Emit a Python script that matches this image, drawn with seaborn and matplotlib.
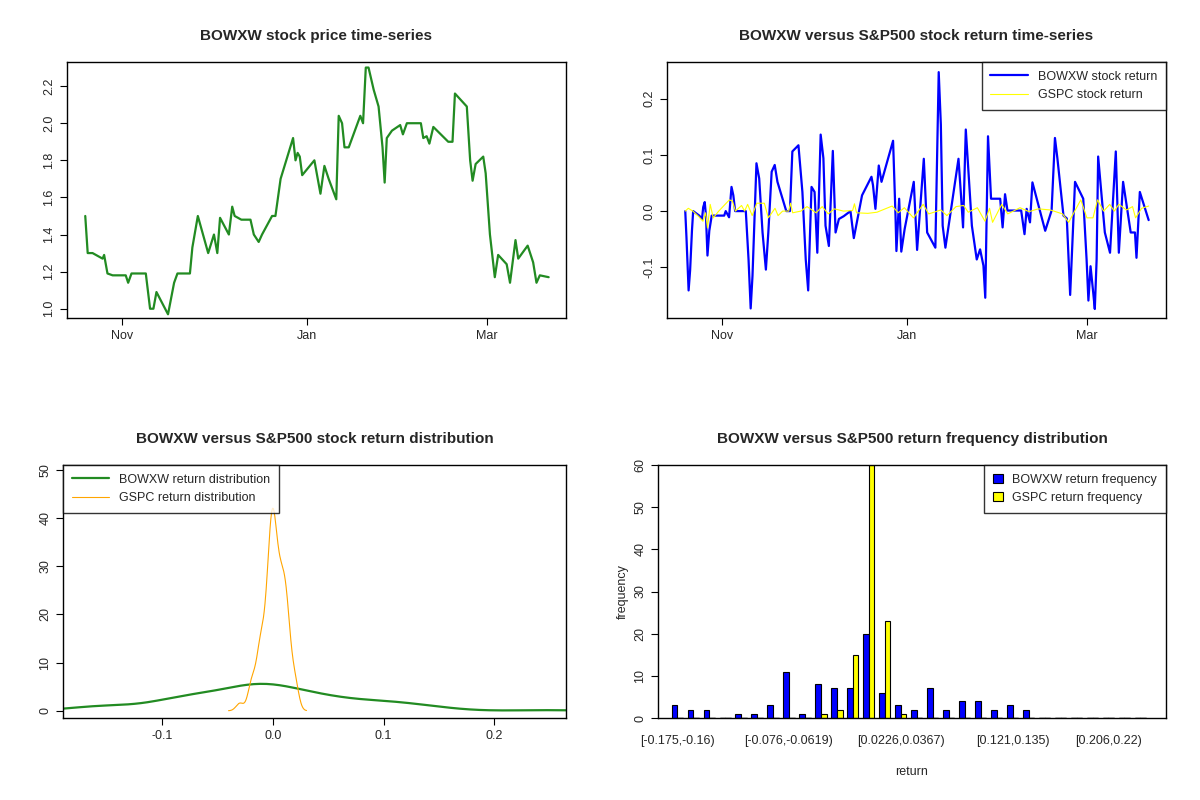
import matplotlib
matplotlib.use("Agg")
import matplotlib.pyplot as plt
import matplotlib.dates as mdates
import seaborn as sns
import numpy as np
import pandas as pd

start = pd.Timestamp("2021-10-20")

# BOWXW price (day offset from start, price)
price_days = [0, 0.8, 2.4, 4.6, 5.7, 6.2, 7.3, 9.0, 13.3, 14.1, 15.2, 19.9, 21.3, 22.4, 23.4,
              27.2, 29.2, 30.3, 34.4, 35.2, 37.0, 40.4, 42.3, 43.4, 44.3, 47.2, 48.3, 49.1, 51.3,
              54.3, 55.4, 57.0, 58.1, 61.4, 62.5, 64.2, 68.3, 69.1, 69.8, 70.5, 71.3, 75.3, 77.3,
              78.6, 80.0, 82.5, 83.3, 84.4, 85.2, 86.6, 90.4, 91.3, 92.2, 93.1, 94.8, 96.4, 97.7,
              98.4, 99.1, 100.8, 103.5, 104.4, 105.7, 110.3, 111.1, 112.2, 113.1, 114.4, 119.3,
              120.7, 121.5, 125.4, 126.5, 127.3, 128.3, 130.8, 131.6, 133.0, 134.6, 135.7, 138.5,
              139.6, 141.4, 142.3, 145.4, 147.2, 148.3, 149.4, 152.3]
price = [1.50, 1.30, 1.30, 1.28, 1.27, 1.29, 1.19, 1.18, 1.18, 1.14, 1.19, 1.19, 1.00, 1.00, 1.09,
         0.97, 1.14, 1.19, 1.19, 1.33, 1.50, 1.30, 1.40, 1.30, 1.49, 1.40, 1.55, 1.50, 1.48,
         1.48, 1.40, 1.36, 1.40, 1.50, 1.50, 1.70, 1.92, 1.80, 1.84, 1.82, 1.72, 1.80, 1.62,
         1.77, 1.70, 1.59, 2.04, 2.00, 1.87, 1.87, 2.04, 2.00, 2.30, 2.30, 2.18, 2.09, 1.87,
         1.68, 1.92, 1.96, 1.99, 1.94, 2.00, 2.00, 1.92, 1.93, 1.89, 1.98, 1.90,
         1.90, 2.16, 2.09, 1.80, 1.69, 1.78, 1.82, 1.73, 1.40, 1.17, 1.29, 1.24,
         1.14, 1.37, 1.27, 1.34, 1.25, 1.14, 1.18, 1.17]

# BOWXW daily return
ret_days = [0, 0.4, 1.1, 1.6, 2.2, 2.6, 4.6, 5.5, 5.9, 6.4,
            6.8, 7.3, 7.9, 8.7, 12.8, 13.3, 14.4, 15.2, 15.8, 16.4,
            19.9, 20.8, 21.5, 22.1, 23.4, 24.3, 25.4, 26.5, 27.3, 28.4,
            29.4, 30.3, 33.2, 34.4, 35.2, 37.2, 38.5, 39.6, 40.4, 41.5,
            42.5, 43.4, 44.5, 45.4, 46.1, 47.2, 48.5, 49.4, 50.5, 52.1,
            54.3, 55.4, 58.1, 61.2, 61.7, 62.5, 63.6, 64.5, 68.3, 69.1,
            69.4, 70.3, 71.0, 72.1, 75.1, 76.2, 78.4, 79.5, 82.2, 83.3,
            84.0, 84.6, 85.5, 89.8, 90.7, 91.3, 92.2, 94.2, 95.8, 96.9,
            98.0, 98.6, 99.5, 100.5, 103.5, 104.3, 105.1, 105.9, 110.4, 111.5,
            112.2, 113.3, 114.1, 118.3, 120.4, 121.5, 122.3, 124.3, 125.4, 126.5,
            128.1, 130.8, 131.9, 132.5, 133.2, 134.1, 134.6, 135.2, 135.7, 137.9,
            139.6, 141.5, 142.5, 143.9, 146.4, 147.8, 148.3, 149.4, 152.3]
bowxw_ret = [0, -0.047, -0.141, -0.105, -0.035, 0, -0.008, -0.014, 0.007, 0.016,
             -0.008, -0.079, -0.035, -0.008, -0.008, 0, -0.011, 0.043, 0.028, 0,
             0, -0.086, -0.173, -0.115, 0.085, 0.058, -0.038, -0.104, -0.038, 0.070,
             0.082, 0.052, 0, 0, 0.106, 0.117, 0.034, -0.086, -0.141, 0.043,
             0.034, -0.074, 0.136, 0.094, -0.026, -0.062, 0.107, -0.038, -0.014, -0.009,
             0, -0.048, 0.028, 0.061, 0.046, 0.004, 0.081, 0.052, 0.125, -0.008,
             -0.071, 0.022, -0.072, -0.032, 0.052, -0.069, 0.093, -0.038, -0.065, 0.247,
             0.154, -0.026, -0.065, 0.093, 0.022, -0.029, 0.145, -0.026, -0.086, -0.068,
             -0.097, -0.154, 0.133, 0.022, 0.022, -0.029, 0.030, 0.001, 0.001, -0.041,
             0.004, -0.020, 0.051, -0.035, 0.001, 0.130, 0.094, -0.008, -0.013, -0.149,
             0.052, 0.022, -0.086, -0.159, -0.098, -0.146, -0.174, -0.086, 0.097, -0.038,
             -0.074, 0.106, -0.074, 0.052, -0.038, -0.038, -0.083, 0.034, -0.016]

# GSPC daily return
gspc_days = [0, 1.0, 2.5, 4.5, 5.8, 6.7, 7.3, 8.2, 9.2, 11, 14.5, 15.5, 16.5, 18.5, 19.5, 20.5,
             22, 23.5, 26, 27.3, 29.5, 30.5, 32, 34, 34.6, 35.3, 38, 40, 43, 45, 47, 49, 52, 55,
             55.6, 56.3, 60, 63, 68, 70, 72, 75, 78.2, 80, 84, 86, 89, 91.5, 93, 96, 98.5, 100,
             101, 104, 106, 110, 113, 116, 120, 124, 126, 128, 130, 132, 134, 135.5, 137.5,
             139.5, 141, 142.5, 145, 147, 148, 150, 152.3]
gspc_ret = [0, 0.005, 0.0, -0.01, -0.018, -0.003, -0.03, 0.012, -0.012, 0.0, 0.02, 0.018, 0.0,
            0.01, 0.0, 0.012, -0.008, 0.014, 0.014, -0.012, 0.005, -0.008, 0.0, 0.0, 0.014,
            -0.003, 0.0, 0.008, -0.003, 0.008, -0.005, 0.004, 0.0, 0.001, 0.013, -0.003, -0.004,
            -0.002, 0.009, -0.003, 0.006, -0.012, 0.012, -0.005, 0.002, -0.008, 0.008, 0.01,
            -0.002, 0.006, -0.018, 0.005, -0.02, 0.012, -0.005, 0.006, -0.001, 0.004, 0.002,
            -0.005, -0.02, 0.0, 0.02, -0.012, -0.012, 0.02, 0.0, 0.012, 0.0, 0.012, 0.002,
            0.008, -0.012, 0.005, 0.009]

# return frequency (30 bins)
bin_labels = ["[-0.175,-0.16)", "", "", "", "", "", "", "[-0.076,-0.0619)", "", "", "", "", "", "",
              "[0.0226,0.0367)", "", "", "", "", "", "", "[0.121,0.135)", "", "", "", "", "",
              "[0.206,0.22)", "", ""]
bowxw_freq = [3, 2, 2, 0, 1, 1, 3, 11, 1, 8, 7, 7, 20, 6, 3, 2, 7, 2, 4, 4, 2, 3, 2, 0, 0, 0, 0, 0, 0, 0]
gspc_freq = [0, 0, 0, 0, 0, 0, 0, 0, 0, 1, 2, 15, 60, 23, 1, 0, 0, 0, 0, 0, 0, 0, 0, 0, 0, 0, 0, 0, 0, 0]

sns.set_style("white")
plt.rcParams["font.family"] = ["Liberation Sans", "DejaVu Sans"]

fig = plt.figure(figsize=(12, 8), dpi=100)
W, H = 1200, 800


def box(x0, y0, x1, y1):
    return fig.add_axes([x0 / W, 1 - y1 / H, (x1 - x0) / W, (y1 - y0) / H])


def r_style(ax, title):
    for s in ax.spines.values():
        s.set_color("black")
        s.set_linewidth(1)
    ax.tick_params(direction="out", length=5, color="black", labelsize=9, left=True, bottom=True)
    for lab in ax.get_yticklabels():
        lab.set_rotation(90)
        lab.set_va("center")
    ax.set_title(title, fontsize=11, fontweight="bold", pad=16)


def date_axis(ax):
    ax.set_xticks([pd.Timestamp("2021-11-01"), pd.Timestamp("2022-01-01"), pd.Timestamp("2022-03-01")])
    ax.xaxis.set_major_formatter(mdates.DateFormatter("%b"))
    ax.set_xlim(start - pd.Timedelta(days=6), start + pd.Timedelta(days=158))
    ax.set_xlabel("")
    ax.set_ylabel("")


def r_legend(ax, loc, hl):
    leg = ax.legend(loc=loc, fontsize=9, frameon=True, fancybox=False, borderaxespad=0,
                    handlelength=hl, borderpad=0.7, title=None)
    leg.get_frame().set_edgecolor("black")
    leg.get_frame().set_linewidth(1)


# price
ax1 = box(67, 62, 566, 318)
df_p = pd.DataFrame({"date": start + pd.to_timedelta(price_days, unit="D"), "price": price})
sns.lineplot(data=df_p, x="date", y="price", ax=ax1, color="#228B22", linewidth=1.6, sort=False)
date_axis(ax1)
ax1.set_ylim(0.95, 2.33)
ax1.set_yticks([1.0, 1.2, 1.4, 1.6, 1.8, 2.0, 2.2])
ax1.set_yticklabels(["1.0", "1.2", "1.4", "1.6", "1.8", "2.0", "2.2"])
r_style(ax1, "BOWXW stock price time-series")

# returns
ax2 = box(667, 62, 1166, 318)
df_b = pd.DataFrame({"date": start + pd.to_timedelta(ret_days, unit="D"), "r": bowxw_ret})
df_g = pd.DataFrame({"date": start + pd.to_timedelta(gspc_days, unit="D"), "r": gspc_ret})
sns.lineplot(data=df_b, x="date", y="r", ax=ax2, color="blue", linewidth=1.6, sort=False,
             label="BOWXW stock return")
sns.lineplot(data=df_g, x="date", y="r", ax=ax2, color="yellow", linewidth=0.8, sort=False,
             label="GSPC stock return")
date_axis(ax2)
ax2.set_ylim(-0.19, 0.265)
ax2.set_yticks([-0.1, 0.0, 0.1, 0.2])
ax2.set_yticklabels(["-0.1", "0.0", "0.1", "0.2"])
r_legend(ax2, "upper right", 3)
r_style(ax2, "BOWXW versus S&P500 stock return time-series")

# density
ax3 = box(63, 465, 566, 718)
sns.kdeplot(x=bowxw_ret, ax=ax3, color="#228B22", linewidth=1.6, cut=3, bw_adjust=0.9,
            label="BOWXW return distribution")
sns.kdeplot(x=gspc_ret, ax=ax3, color="orange", linewidth=0.8, cut=3, bw_adjust=0.8,
            label="GSPC return distribution")
ax3.set_xlim(-0.19, 0.265)
ax3.set_ylim(-1.5, 51)
ax3.set_xticks([-0.1, 0.0, 0.1, 0.2])
ax3.set_xticklabels(["-0.1", "0.0", "0.1", "0.2"])
ax3.set_yticks([0, 10, 20, 30, 40, 50])
ax3.set_xlabel("")
ax3.set_ylabel("")
r_legend(ax3, "upper left", 3)
r_style(ax3, "BOWXW versus S&P500 stock return distribution")

# histogram
ax4 = box(658, 465, 1166, 718)
n = len(bowxw_freq)
df_h = pd.DataFrame({
    "bin": list(range(n)) * 2,
    "freq": bowxw_freq + gspc_freq,
    "series": ["BOWXW return frequency"] * n + ["GSPC return frequency"] * n,
})
sns.barplot(data=df_h, x="bin", y="freq", hue="series", ax=ax4,
            palette=["blue", "yellow"], edgecolor="black", linewidth=0.8, width=0.7,
            saturation=1)
# zero-height bars drawn as flat black lines, as R does
for p in ax4.patches:
    if p.get_height() == 0 and p.get_width() > 0:
        ax4.plot([p.get_x(), p.get_x() + p.get_width()], [0, 0], color="black", linewidth=1)
ax4.set_xlim(-1.2, n + 0.6)
ax4.set_ylim(0, 60)
ax4.set_yticks([0, 10, 20, 30, 40, 50, 60])
ticks = [i for i, l in enumerate(bin_labels) if l]
ax4.set_xticks(ticks)
ax4.set_xticklabels([bin_labels[i] for i in ticks])
ax4.set_xlabel("return", fontsize=9, labelpad=14)
ax4.set_ylabel("frequency", fontsize=9)
r_legend(ax4, "upper right", 0.8)
r_style(ax4, "BOWXW versus S&P500 return frequency distribution")
ax4.tick_params(axis="x", length=0, pad=12)

fig.savefig("out.png", dpi=100)
